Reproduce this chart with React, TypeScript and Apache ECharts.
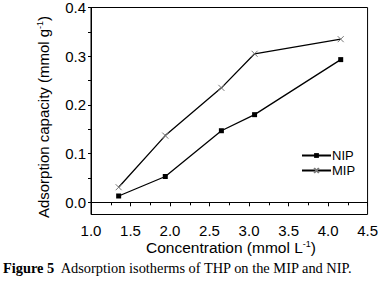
import React, { useEffect, useRef } from "react";
import * as echarts from "echarts";

const concentration = [1.35, 1.94, 2.65, 3.07, 4.16];
const nipValues = [0.013, 0.053, 0.147, 0.18, 0.293];
const mipValues = [0.031, 0.137, 0.235, 0.305, 0.335];
const yLabelValues = [0, 0.1, 0.2, 0.3, 0.4];
const yTickValues = [0, 0.05, 0.1, 0.15, 0.2, 0.25, 0.3, 0.35, 0.4];
const seriesNames = ["NIP", "MIP"];

const SANS = "'Liberation Sans', Arial, sans-serif";
const SERIF = "'Liberation Serif', 'Times New Roman', serif";

export default function App() {
  const ref = useRef<HTMLDivElement>(null);
  useEffect(() => {
    if (!ref.current) return;
    const chart = echarts.init(ref.current, null, { renderer: "svg" });
    const pair = (xs: number[], ys: number[]) => xs.map((x, i) => [x, ys[i]]);
    chart.setOption({
      animation: false,
      backgroundColor: "#fff",
      grid: {
        left: 91,
        top: 7.5,
        right: 10.5,
        bottom: 69.5,
        show: true,
        borderColor: "#000",
        borderWidth: 1,
      },
      xAxis: {
        type: "value",
        min: 1,
        max: 4.5,
        interval: 0.5,
        axisLine: { show: true, lineStyle: { color: "#000", width: 1 } },
        axisTick: { show: true, inside: false, length: 4, lineStyle: { color: "#000" } },
        minorTick: { show: true, splitNumber: 2, length: 3, lineStyle: { color: "#000" } },
        splitLine: { show: false },
        axisLabel: {
          color: "#000",
          fontFamily: SANS,
          fontSize: 15,
          margin: 8,
          formatter: (v: number) => v.toFixed(1),
        },
      },
      yAxis: {
        type: "value",
        min: -0.025,
        max: 0.4,
        axisLine: { show: true, lineStyle: { color: "#000", width: 1 } },
        axisTick: {
          show: true,
          length: 3,
          customValues: yTickValues,
          lineStyle: { color: "#000" },
        },
        splitLine: { show: false },
        axisLabel: {
          color: "#000",
          fontFamily: SANS,
          fontSize: 15,
          margin: 5,
          customValues: yLabelValues,
          formatter: (v: number) => v.toFixed(1),
        },
      },
      legend: {
        show: true,
        left: 301,
        top: 149,
        orient: "vertical",
        padding: 0,
        itemGap: 2,
        itemWidth: 29,
        itemHeight: 6,
        textStyle: { fontFamily: SANS, fontSize: 13, color: "#000", padding: [0, 0, 0, -4] },
        data: seriesNames,
      },
      graphic: [
        {
          type: "text",
          x: 43,
          y: 117,
          rotation: Math.PI / 2,
          style: {
            text: "{n|Adsorption capacity (mmol g}{s|-1}{n|)}",
            align: "center",
            verticalAlign: "middle",
            rich: {
              n: { fontFamily: SANS, fontSize: 15, fill: "#000" },
              s: { fontFamily: SANS, fontSize: 9, fill: "#000", verticalAlign: "top", padding: [0, 0, 7, 0] },
            },
          },
        },
        {
          type: "text",
          x: 231,
          y: 247.5,
          style: {
            text: "{n|Concentration (mmol L}{s|-1}{n|)}",
            align: "center",
            verticalAlign: "middle",
            rich: {
              n: { fontFamily: SANS, fontSize: 15.5, fill: "#000" },
              s: { fontFamily: SANS, fontSize: 9, fill: "#000", verticalAlign: "top", padding: [0, 0, 7, 0] },
            },
          },
        },
        {
          type: "text",
          x: 3,
          y: 268,
          style: {
            text: "{b|Figure 5}{n|  Adsorption isotherms of THP on the MIP and NIP.}",
            verticalAlign: "middle",
            rich: {
              b: { fontFamily: SERIF, fontSize: 14.4, fontWeight: "bold", fill: "#000" },
              n: { fontFamily: SERIF, fontSize: 14.4, fill: "#000" },
            },
          },
        },
      ],
      series: [
        {
          name: seriesNames[0],
          type: "line",
          data: pair(concentration, nipValues),
          symbol: "rect",
          symbolSize: 5,
          lineStyle: { color: "#000", width: 1.3 },
          itemStyle: { color: "#000" },
        },
        {
          name: seriesNames[1],
          type: "line",
          data: pair(concentration, mipValues),
          symbol: "path://M0,0L10,10M10,0L0,10",
          symbolSize: 6,
          lineStyle: { color: "#000", width: 1.3 },
          itemStyle: { color: "#fff", borderColor: "#777", borderWidth: 1 },
        },
      ],
    });
    return () => chart.dispose();
  }, []);
  return <div ref={ref} style={{ width: 381, height: 284, position: "absolute", left: 0, top: 0 }} />;
}
